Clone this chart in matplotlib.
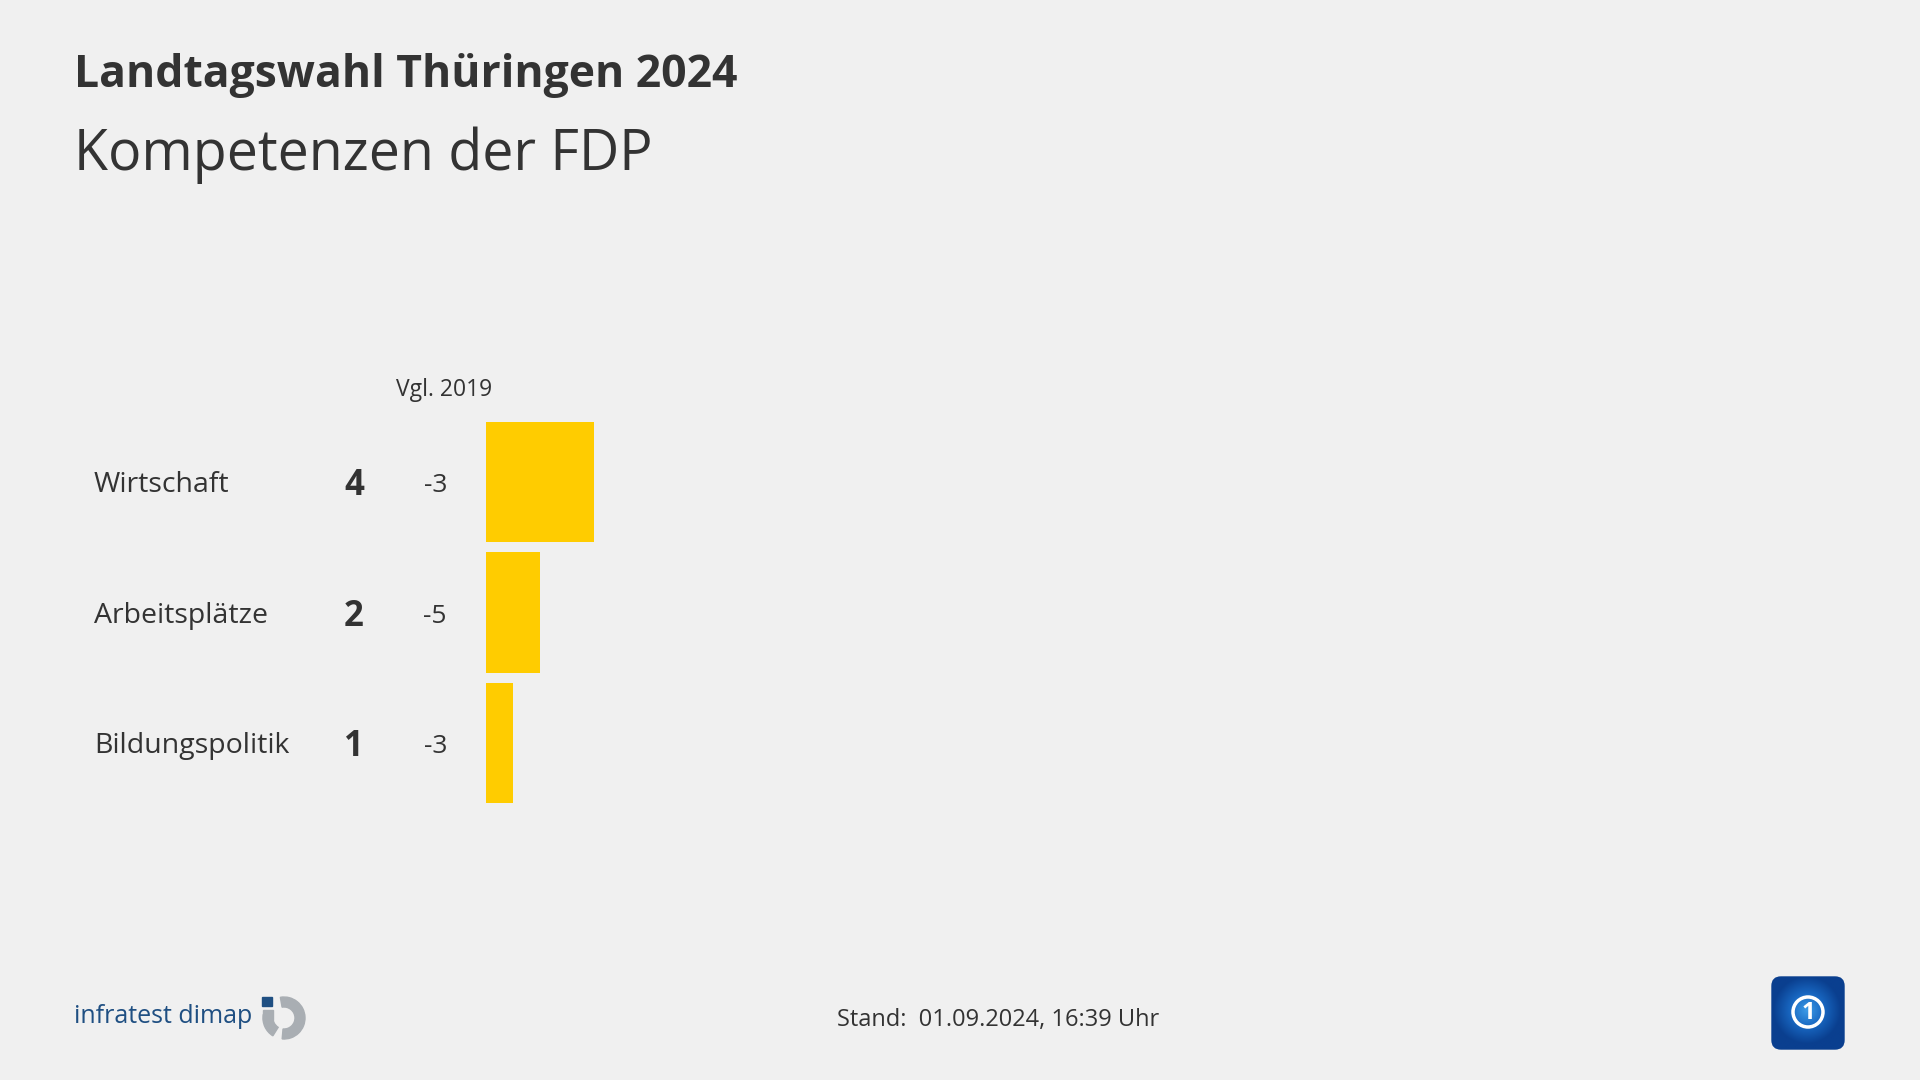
import numpy as np
import matplotlib.pyplot as plt
from matplotlib.patches import Wedge, Rectangle, FancyBboxPatch, Circle
from matplotlib.transforms import blended_transform_factory

plt.rcParams['font.family'] = ['Open Sans', 'DejaVu Sans']

# data
topics = ['Wirtschaft', 'Arbeitsplätze', 'Bildungspolitik']
values = [4, 2, 1]
diff_2019 = ['-3', '-5', '-3']

title = 'Landtagswahl Thüringen 2024'
subtitle = 'Kompetenzen der FDP'
stand = 'Stand:  01.09.2024, 16:39 Uhr'

BG = '#f0f0f0'
TXT = '#333333'
YELLOW = '#ffcc00'

W, H = 1920, 1080
fig = plt.figure(figsize=(W / 100, H / 100), dpi=100, facecolor=BG)

# pixel helper axes for decorations
deco = fig.add_axes([0, 0, 1, 1])
deco.set_xlim(0, W)
deco.set_ylim(H, 0)
deco.axis('off')
deco.patch.set_alpha(0)

deco.text(74, 87, title, fontsize=32, fontweight='bold', color=TXT, va='baseline')
deco.text(74, 170, subtitle, fontsize=40, color=TXT, va='baseline')

# bar axes: x 0 at 486px, 27 px per unit; rows 130.5 px apart
px_unit = 27.0
ax_left, ax_right = 486, 1870
ax_top, ax_bot = 416.75, 808.25
ax = fig.add_axes([ax_left / W, 1 - ax_bot / H, (ax_right - ax_left) / W, (ax_bot - ax_top) / H])
ax.set_xlim(0, (ax_right - ax_left) / px_unit)
ax.set_ylim(len(topics) - 0.5, -0.5)
ax.axis('off')
ax.patch.set_alpha(0)

ypos = np.arange(len(topics))
ax.barh(ypos, values, height=0.92, color=YELLOW, align='center')

tr = blended_transform_factory(deco.transData, ax.transData)
for i, (t, v, d) in enumerate(zip(topics, values, diff_2019)):
    ax.text(94, i + 0.078, t, transform=tr, fontsize=20.5, color=TXT, va='baseline', ha='left')
    ax.text(354, i + 0.1, str(v), transform=tr, fontsize=25, fontweight='bold', color=TXT,
            va='baseline', ha='center')
    ax.text(447, i + 0.078, d, transform=tr, fontsize=19, color=TXT, va='baseline', ha='right')

deco.text(444, 396, 'Vgl. 2019', fontsize=16.5, color=TXT, va='baseline', ha='center')

# footer
deco.text(998, 1026, stand, fontsize=17, color=TXT, va='baseline', ha='center')

# infratest dimap logo
deco.text(74, 1023, 'infratest dimap', fontsize=18, color='#1f4f82', va='baseline', ha='left')
deco.add_patch(Rectangle((262, 997), 10, 9, color='#1f4f82'))
deco.add_patch(Wedge((284, 1018), 21, -100, 95, width=10, color='#a9aeb3'))
deco.add_patch(Wedge((284, 1018), 21, 122, 190, width=10, color='#a9aeb3'))
deco.add_patch(Rectangle((263, 1010), 10, 10, color='#a9aeb3'))

# ARD logo
box = FancyBboxPatch((1772, 977), 72, 72, boxstyle='round,pad=0,rounding_size=9',
                     color='#0a3f8f')
deco.add_patch(box)
gx, gy = np.meshgrid(np.linspace(1772, 1844, 80), np.linspace(977, 1049, 80))
r = np.hypot(gx - 1807, gy - 1010)
grad = np.clip(1 - r / 34, 0, 1)
img = deco.imshow(grad, extent=(1772, 1844, 1049, 977), cmap=plt.matplotlib.colors.LinearSegmentedColormap.from_list(
    'ard', ['#0a3f8f', '#1866c0', '#3c9ae6']), origin='upper', zorder=2)
img.set_clip_path(box)
deco.add_patch(Circle((1808, 1012), 15, fill=False, ec='white', lw=2.5, zorder=3))
deco.text(1808, 1013, '1', fontsize=17, fontweight='bold', color='white', ha='center', va='center', zorder=4)
deco.set_xlim(0, W)
deco.set_ylim(H, 0)

fig.savefig('out.png', dpi=100, facecolor=BG)
